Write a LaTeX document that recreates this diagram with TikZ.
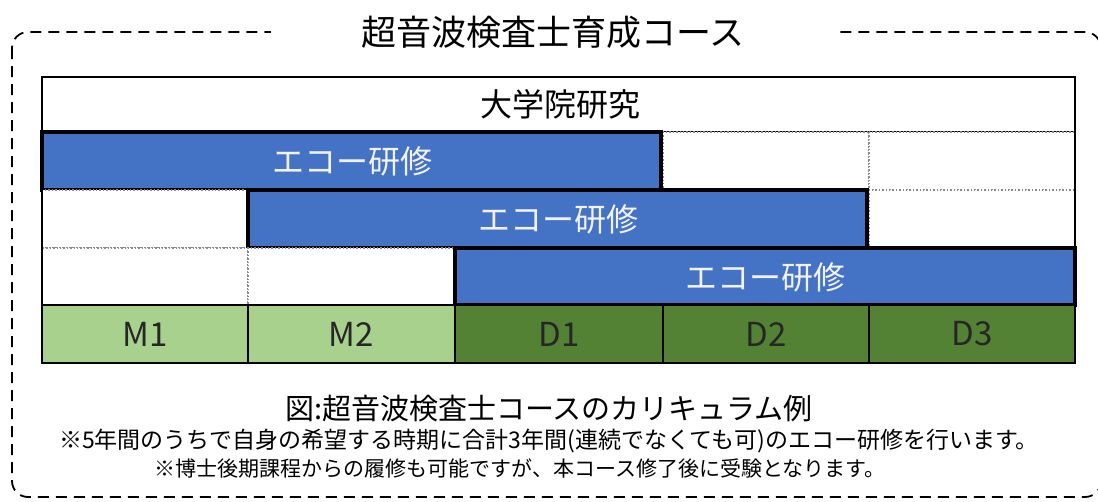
\documentclass[tikz,border=0pt]{standalone}
\usepackage{fontspec}
\newfontfamily\jp{Noto Sans CJK JP}
\definecolor{eblue}{HTML}{4472C4}
\definecolor{lgreen}{HTML}{A9D18E}
\definecolor{dgreen}{HTML}{548235}
\definecolor{dotgray}{HTML}{8A8A8A}
\tikzset{
  cell/.style={draw=black, line width=1.6pt, fill=white},
  emptycell/.style={draw=dotgray, line width=1.4pt, dotted, fill=white},
  echo/.style={draw=black, line width=3.5pt, fill=eblue},
  echolabel/.style={text=white!95!black, font=\jp\fontsize{32}{34}\selectfont},
  yearM/.style={draw=black, line width=1.4pt, fill=lgreen},
  yearD/.style={draw=black, line width=1.4pt, fill=dgreen},
  yearlabel/.style={text=black!85, font=\jp\fontsize{33}{34}\selectfont},
}
\begin{document}
\begin{tikzpicture}[x=1pt,y=-1pt]
\useasboundingbox (0,0) rectangle (1098,501);
% dashed frame
\draw[line width=1.8pt, dash pattern=on 11pt off 7pt, rounded corners=16pt] (12,32) rectangle (1101,497);
\node[fill=white, inner xsep=90pt, inner ysep=4pt, font=\jp\fontsize{35}{37}\selectfont] (title) at (553,32) {超音波検査士育成コース};
% columns x: 42,248,455,663,869,1075 ; rows y: 77,132,190,248,305,363
% row 1
\draw[cell] (42,77) rectangle (1075,132);
\node[font=\jp\fontsize{32}{34}\selectfont] (grad) at (560,104) {大学院研究};
% row 2
\draw[emptycell] (663,132) rectangle (869,190);
\draw[emptycell] (869,132) rectangle (1075,190);
\draw[echo] (42,132) rectangle (661,190);
\node[echolabel] (e1) at (352,161) {エコー研修};
% row 3
\draw[emptycell] (42,190) rectangle (248,248);
\draw[emptycell] (869,190) rectangle (1075,248);
\draw[echo] (248,190) rectangle (867,248);
\node[echolabel] (e2) at (558,219) {エコー研修};
% row 4
\draw[emptycell] (42,248) rectangle (248,305);
\draw[emptycell] (248,248) rectangle (455,305);
\draw[echo] (455,248) rectangle (1075,305);
\node[echolabel] (e3) at (765,277) {エコー研修};
% outer thin border sides
\draw[line width=1.6pt] (1075,77) -- (1075,305);
\draw[line width=1.6pt] (42,77) -- (42,305);
% year row
\draw[yearM] (42,305) rectangle (248,363);
\draw[yearM] (248,305) rectangle (455,363);
\draw[yearD] (455,305) rectangle (663,363);
\draw[yearD] (663,305) rectangle (869,363);
\draw[yearD] (869,305) rectangle (1075,363);
\node[yearlabel] (m1) at (145,334) {M1};
\node[yearlabel] (m2) at (351,334) {M2};
\node[yearlabel] (d1) at (559,334) {D1};
\node[yearlabel] (d2) at (766,334) {D2};
\node[yearlabel] (d3) at (972,334) {D3};
% captions
\node[font=\jp\fontsize{29}{30}\selectfont] (cap) at (549,409) {図:超音波検査士コースのカリキュラム例};
\node[font=\jp\fontsize{23}{24}\selectfont] (n1) at (549,441) {※5年間のうちで自身の希望する時期に合計3年間(連続でなくても可)のエコー研修を行います。};
\node[font=\jp\fontsize{21}{23}\selectfont] (n2) at (520,468) {※博士後期課程からの履修も可能ですが、本コース修了後に受験となります。};
\end{tikzpicture}
\end{document}
